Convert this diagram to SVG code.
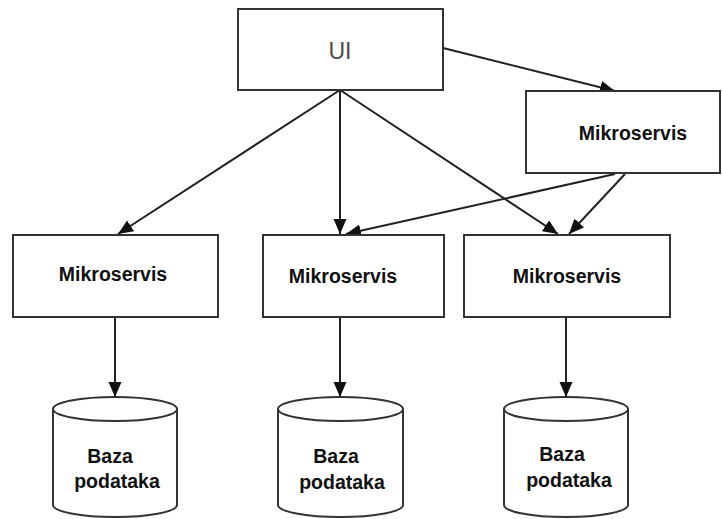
<svg xmlns="http://www.w3.org/2000/svg" width="722" height="519" viewBox="0 0 722 519">
<style>
.box{fill:#fff;stroke:#333;stroke-width:2}
.cyl{fill:#fff;stroke:#333;stroke-width:2}
.lbl{font-family:"Liberation Sans",Arial,sans-serif;font-weight:bold;font-size:19.5px;fill:#111;text-anchor:middle}
.ui{font-family:"Liberation Sans",Arial,sans-serif;font-size:23px;fill:#4a4a4a;text-anchor:middle}
.con{stroke:#222;stroke-width:2;fill:none;marker-end:url(#ah)}
</style>
<defs>
<marker id="ah" markerUnits="userSpaceOnUse" markerWidth="18" markerHeight="14" refX="15" refY="6.5" orient="auto">
<path d="M0,0 L15,6.5 L0,13 Z" fill="#111"/>
</marker>
</defs>
<rect width="722" height="519" fill="#fff"/>
<g id="connectors">
<line class="con" x1="443" y1="48" x2="615" y2="91"/>
<line class="con" x1="340" y1="90" x2="118" y2="234"/>
<line class="con" x1="340" y1="90" x2="340" y2="234"/>
<line class="con" x1="340" y1="90" x2="558" y2="234"/>
<line class="con" x1="615" y1="174" x2="346" y2="234"/>
<line class="con" x1="625" y1="174" x2="569" y2="234"/>
<line class="con" x1="115" y1="317" x2="115" y2="397"/>
<line class="con" x1="340" y1="317" x2="340" y2="397"/>
<line class="con" x1="566" y1="317" x2="566" y2="397"/>
</g>
<g id="ui"><rect class="box" x="238" y="9" width="205" height="81"/><text class="ui" x="340" y="59">UI</text></g>
<g id="ms-top"><rect class="box" x="526" y="91" width="194" height="82"/><text class="lbl" x="633" y="140">Mikroservis</text></g>
<g id="ms-left"><rect class="box" x="13" y="235" width="205" height="82"/><text class="lbl" x="113" y="281">Mikroservis</text></g>
<g id="ms-mid"><rect class="box" x="263" y="235" width="181" height="82"/><text class="lbl" x="343" y="283">Mikroservis</text></g>
<g id="ms-right"><rect class="box" x="464" y="235" width="206" height="82"/><text class="lbl" x="567" y="283">Mikroservis</text></g>
<g id="db-left">
<path class="cyl" d="M53,409 L53,505 A62,12 0 0 0 177,505 L177,409"/>
<ellipse class="cyl" cx="115" cy="409" rx="62" ry="12"/>
<text class="lbl" x="110" y="463">Baza</text><text class="lbl" x="117" y="488">podataka</text>
</g>
<g id="db-mid">
<path class="cyl" d="M278,409 L278,505 A62.5,12 0 0 0 403,505 L403,409"/>
<ellipse class="cyl" cx="340.5" cy="409" rx="62.5" ry="12"/>
<text class="lbl" x="336" y="463">Baza</text><text class="lbl" x="342" y="489">podataka</text>
</g>
<g id="db-right">
<path class="cyl" d="M504,409 L504,505 A62,12 0 0 0 628,505 L628,409"/>
<ellipse class="cyl" cx="566" cy="409" rx="62" ry="12"/>
<text class="lbl" x="562" y="461">Baza</text><text class="lbl" x="569" y="487">podataka</text>
</g>
</svg>
